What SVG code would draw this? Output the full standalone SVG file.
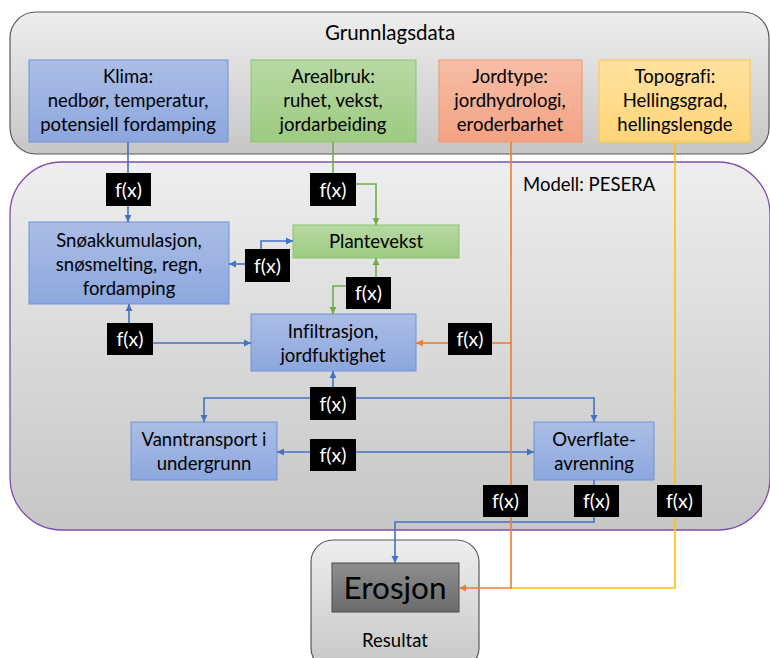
<svg xmlns="http://www.w3.org/2000/svg" width="770" height="658" viewBox="0 0 770 658">
<defs>
<linearGradient id="gGray" x1="0" y1="0" x2="0" y2="1"><stop offset="0" stop-color="#eeeeee"/><stop offset="1" stop-color="#c6c6c6"/></linearGradient>
<linearGradient id="gBlue" x1="0" y1="0" x2="0" y2="1"><stop offset="0" stop-color="#abbde6"/><stop offset="1" stop-color="#8ca7de"/></linearGradient>
<linearGradient id="gGreen" x1="0" y1="0" x2="0" y2="1"><stop offset="0" stop-color="#b7d8a3"/><stop offset="1" stop-color="#9dcb82"/></linearGradient>
<linearGradient id="gOrange" x1="0" y1="0" x2="0" y2="1"><stop offset="0" stop-color="#f6bea7"/><stop offset="1" stop-color="#f3a283"/></linearGradient>
<linearGradient id="gYellow" x1="0" y1="0" x2="0" y2="1"><stop offset="0" stop-color="#ffe19e"/><stop offset="1" stop-color="#ffd579"/></linearGradient>
<linearGradient id="gDark" x1="0" y1="0" x2="0" y2="1"><stop offset="0" stop-color="#8e8e8e"/><stop offset="1" stop-color="#6c6c6c"/></linearGradient>
<marker id="aB" markerUnits="userSpaceOnUse" markerWidth="8" markerHeight="8" refX="7" refY="4" orient="auto"><path d="M0,0.5 L7,4 L0,7.5 z" fill="#4472c4"/></marker>
<marker id="aG" markerUnits="userSpaceOnUse" markerWidth="8" markerHeight="8" refX="7" refY="4" orient="auto"><path d="M0,0.5 L7,4 L0,7.5 z" fill="#70ad47"/></marker>
<marker id="aO" markerUnits="userSpaceOnUse" markerWidth="8" markerHeight="8" refX="7" refY="4" orient="auto"><path d="M0,0.5 L7,4 L0,7.5 z" fill="#ed7d31"/></marker>
</defs>
<style>
text{font-family:Lato,"Liberation Sans",sans-serif;font-size:18.5px;fill:#000;text-anchor:middle;font-variant-ligatures:none}
.fx rect{fill:#000}
.fx text{fill:#fff;font-size:19.5px}
.cont{fill:url(#gGray)}
.blue{fill:url(#gBlue);stroke:#7092d6;stroke-width:1}
.green{fill:url(#gGreen);stroke:#8cc36e;stroke-width:1}
.lb{fill:none;stroke:#4472c4;stroke-width:1.6}
.lg{fill:none;stroke:#70ad47;stroke-width:1.6}
.lo{fill:none;stroke:#ed7d31;stroke-width:1.6}
.ly{fill:none;stroke:#ffc000;stroke-width:1.6}
</style>
<g id="grunnlagsdata">
<rect class="cont" x="10" y="12" width="759" height="142" rx="26" stroke="#595959" stroke-width="1.2"/>
<text x="390" y="40" style="font-size:20.5px">Grunnlagsdata</text>
</g>
<g id="modell">
<rect class="cont" x="10" y="162" width="760" height="368" rx="52" stroke="#7f4fae" stroke-width="1.3"/>
<text x="523" y="191" style="text-anchor:start">Modell: PESERA</text>
</g>
<g id="resultat">
<rect class="cont" x="311" y="540" width="168" height="130" rx="22" stroke="#595959" stroke-width="1.2"/>
<text x="395" y="647">Resultat</text>
</g>
<g id="klima">
<rect class="blue" x="29" y="60" width="199" height="82"/>
<text x="128" y="83">Klima:</text>
<text x="128" y="107">nedbør, temperatur,</text>
<text x="128" y="131">potensiell fordamping</text>
</g>
<g id="arealbruk">
<rect class="green" x="251" y="60" width="165" height="82"/>
<text x="333" y="83">Arealbruk:</text>
<text x="333" y="107">ruhet, vekst,</text>
<text x="333" y="131">jordarbeiding</text>
</g>
<g id="jordtype">
<rect x="439" y="60" width="143" height="82" fill="url(#gOrange)" stroke="#f0956b"/>
<text x="510" y="83">Jordtype:</text>
<text x="510" y="107">jordhydrologi,</text>
<text x="510" y="131">eroderbarhet</text>
</g>
<g id="topografi">
<rect x="599" y="60" width="151" height="82" fill="url(#gYellow)" stroke="#ffc83f"/>
<text x="675" y="83">Topografi:</text>
<text x="675" y="107">Hellingsgrad,</text>
<text x="675" y="131">hellingslengde</text>
</g>
<g id="snoakkumulasjon">
<rect class="blue" x="29" y="222" width="200" height="82"/>
<text x="129" y="247">Snøakkumulasjon,</text>
<text x="129" y="271">snøsmelting, regn,</text>
<text x="129" y="295">fordamping</text>
</g>
<g id="plantevekst">
<rect class="green" x="293" y="225" width="166" height="33"/>
<text x="376" y="248">Plantevekst</text>
</g>
<g id="infiltrasjon">
<rect class="blue" x="251" y="314" width="165" height="57"/>
<text x="333" y="338">Infiltrasjon,</text>
<text x="333" y="362">jordfuktighet</text>
</g>
<g id="vanntransport">
<rect class="blue" x="131" y="422" width="146" height="58"/>
<text x="204" y="446">Vanntransport i</text>
<text x="204" y="470">undergrunn</text>
</g>
<g id="overflateavrenning">
<rect class="blue" x="534" y="422" width="120" height="58"/>
<text x="594" y="446">Overflate-</text>
<text x="594" y="470">avrenning</text>
</g>
<g id="erosjon">
<rect x="332" y="563" width="127" height="49" fill="url(#gDark)" stroke="#4a4a4a"/>
<text x="395" y="598.5" style="font-size:31.5px">Erosjon</text>
</g>
<g id="connectors">
<path class="lb" d="M128,142 V173"/>
<path class="lb" d="M128,206 V222" marker-end="url(#aB)"/>
<path class="lb" d="M245,264 H229" marker-end="url(#aB)"/>
<path class="lb" d="M261,249 V241 H293" marker-end="url(#aB)"/>
<path class="lb" d="M129,323 V304" marker-end="url(#aB)"/>
<path class="lb" d="M153,343 H251" marker-end="url(#aB)"/>
<path class="lb" d="M333,387 V371" marker-end="url(#aB)"/>
<path class="lb" d="M310,398 H204 V422" marker-end="url(#aB)"/>
<path class="lb" d="M356,398 H594 V422" marker-end="url(#aB)"/>
<path class="lb" d="M310,452 H277" marker-end="url(#aB)"/>
<path class="lb" d="M356,452 H534" marker-end="url(#aB)"/>
<path class="lb" d="M594,480 V485"/>
<path class="lb" d="M594,517 V522 H395 V563" marker-end="url(#aB)"/>
<path class="lg" d="M333,142 V173"/>
<path class="lg" d="M356,184 H376 V225" marker-end="url(#aG)"/>
<path class="lg" d="M376,277 V258" marker-end="url(#aG)"/>
<path class="lg" d="M346,286 H333 V314" marker-end="url(#aG)"/>
<path class="ly" d="M675,142 V588 H511"/>
<path class="lo" d="M511,142 V588 H459" marker-end="url(#aO)"/>
<path class="lo" d="M492,343 H511"/>
<path class="lo" d="M448,343 H416" marker-end="url(#aO)"/>
</g>
<g id="fx1" class="fx"><rect x="106" y="173" width="45" height="33"/><text x="128.5" y="196.5">f(x)</text></g>
<g id="fx2" class="fx"><rect x="310" y="173" width="46" height="33"/><text x="333" y="196.5">f(x)</text></g>
<g id="fx3" class="fx"><rect x="245" y="249" width="45" height="33"/><text x="267.5" y="272.5">f(x)</text></g>
<g id="fx4" class="fx"><rect x="346" y="277" width="45" height="32"/><text x="368.5" y="300">f(x)</text></g>
<g id="fx5" class="fx"><rect x="107" y="323" width="46" height="32"/><text x="130" y="346">f(x)</text></g>
<g id="fx6" class="fx"><rect x="448" y="323" width="44" height="32"/><text x="470" y="346">f(x)</text></g>
<g id="fx7" class="fx"><rect x="310" y="387" width="46" height="33"/><text x="333" y="410.5">f(x)</text></g>
<g id="fx8" class="fx"><rect x="310" y="439" width="46" height="32"/><text x="333" y="462">f(x)</text></g>
<g id="fx9" class="fx"><rect x="483" y="485" width="45" height="32"/><text x="505.5" y="508">f(x)</text></g>
<g id="fx10" class="fx"><rect x="574" y="485" width="45" height="32"/><text x="596.5" y="508">f(x)</text></g>
<g id="fx11" class="fx"><rect x="657" y="485" width="45" height="32"/><text x="679.5" y="508">f(x)</text></g>
</svg>
